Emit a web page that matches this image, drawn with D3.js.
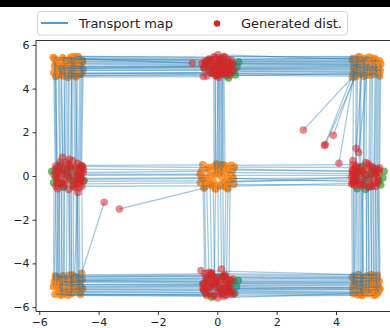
<!DOCTYPE html>
<html>
<head>
<meta charset="utf-8">
<script src="https://cdn.jsdelivr.net/npm/d3@7"></script>
<style>
  html, body { margin: 0; padding: 0; background: #fff; }
  svg { display: block; font-family: "DejaVu Sans", sans-serif; }
</style>
</head>
<body>
<svg id="chart" width="390" height="328"></svg>
<script>
// Source samples (orange). Entry i is carried by the transport map to generatedPts[i].
const sourcePts = [
  // corner (-5, 5)
  [-5.42,5.31],[-4.63,5.12],[-5.18,4.58],[-4.81,5.47],[-5.33,4.82],[-4.56,4.71],[-5.07,5.22],[-4.72,4.93],[-5.48,5.03],[-4.95,4.66],[-5.21,5.41],[-4.67,5.36],
  [-5.36,4.62],[-4.88,5.18],[-5.02,4.77],[-4.59,5.05],[-5.45,5.19],[-4.76,4.54],[-5.13,4.95],[-4.93,5.44],[-5.27,5.08],[-4.52,4.87],[-5.51,4.73],[-4.84,5.28],
  [-4.97,5.34],[-5.29,4.69],[-4.54,5.24],[-5.39,4.91],[-4.86,4.59],[-5.15,5.15],[-4.61,4.84],[-5.53,5.42],[-4.78,5.02],[-5.04,4.52],[-4.69,5.47],[-5.24,4.96],
  [-5.44,4.55],[-4.91,4.88],[-5.17,5.32],[-4.64,4.63],[-5.32,5.01],[-4.79,5.11],[-5.08,4.61],[-4.55,5.29],[-5.25,4.79],[-4.99,5.06],[-5.48,5.36],[-4.71,4.72],
  // corner (5, 5)
  [4.58,5.38],[5.21,4.62],[4.83,5.09],[5.46,5.27],[4.69,4.77],[5.12,5.44],[4.94,4.56],[5.37,4.91],[4.61,5.17],[5.28,5.02],[4.77,4.68],[5.05,5.31],
  [4.55,4.52],[4.62,4.58],[4.57,4.66],[4.66,4.54],[5.32,5.36],[4.87,4.84],[5.43,4.69],[5.08,5.15],[4.73,5.42],[5.19,4.78],[5.51,5.12],[4.98,4.97],
  [4.91,5.25],[5.33,4.67],[4.64,4.89],[5.17,5.09],[4.79,5.46],[5.42,4.98],[4.56,5.31],[5.06,4.74],[5.26,5.39],[4.72,5.04],[5.49,4.83],[4.99,5.18],
  [5.03,4.61],[4.68,5.23],[5.39,4.86],[4.84,4.68],[5.23,5.29],[4.59,4.93],[5.47,4.58],[4.95,5.37],[5.14,4.92],[4.81,5.05],[5.36,5.14],[4.62,4.77],
  // corner (-5, -5)
  [-5.38,-4.64],[-4.71,-5.29],[-5.12,-4.86],[-4.58,-5.07],[-5.47,-5.41],[-4.89,-4.53],[-5.24,-5.18],[-4.63,-4.79],[-5.03,-5.46],[-5.31,-4.97],[-4.79,-5.12],[-5.16,-4.71],
  [-4.57,-4.45],[-5.41,-5.02],[-4.96,-4.68],[-5.27,-5.33],[-4.68,-4.91],[-5.09,-5.24],[-4.82,-4.59],[-5.49,-4.82],[-4.54,-5.16],[-5.19,-4.57],[-4.91,-5.38],[-5.35,-4.74],
  [-5.06,-5.04],[-4.74,-4.62],[-5.33,-5.27],[-4.61,-5.42],[-5.19,-4.83],[-4.93,-5.19],[-5.46,-4.58],[-4.85,-4.97],[-5.28,-5.45],[-4.55,-4.74],[-5.11,-5.34],[-4.98,-4.79],
  [-5.42,-4.61],[-4.86,-5.12],[-5.15,-4.89],[-4.63,-5.31],[-5.31,-5.19],[-4.99,-4.54],[-5.52,-5.07],[-4.75,-4.76],[-5.22,-5.43],[-4.92,-4.98],[-5.37,-4.81],[-4.69,-5.22],
  // corner (5, -5)
  [4.61,-4.58],[5.24,-5.31],[4.86,-4.87],[5.43,-5.08],[4.73,-5.44],[5.08,-4.66],[4.57,-5.19],[5.31,-4.79],[4.95,-5.36],[5.17,-4.96],[4.68,-5.12],[5.39,-4.54],
  [4.64,-4.72],[5.27,-5.15],[4.82,-5.28],[5.46,-4.83],[4.59,-5.04],[5.12,-4.61],[4.91,-4.93],[5.35,-5.42],[4.76,-4.51],[5.02,-5.22],[5.21,-4.76],[4.88,-5.47],
  [5.01,-5.01],[4.66,-4.74],[5.29,-5.46],[4.89,-4.63],[5.45,-5.21],[4.79,-5.33],[5.14,-4.84],[4.58,-5.38],[5.37,-4.68],[4.97,-5.14],[5.19,-4.52],[4.72,-4.91],
  [5.29,-4.58],[4.71,-5.23],[5.11,-5.39],[4.93,-4.71],[5.48,-5.16],[4.62,-4.86],[5.04,-4.57],[5.36,-4.99],[4.85,-5.41],[5.19,-5.08],[4.55,-4.64],[5.42,-5.33],
  // centre (0, 0)
  [0.08,0.47],[-0.05,0.31],[0.17,0.52],[0.02,0.12],[0.21,0.38],[-0.11,0.44],
  [-0.36,-0.42],[0.29,-0.51],[-0.14,-0.27],[0.43,-0.35],[-0.48,-0.19],[0.11,-0.46],
  [-0.53,0.21],[-0.41,-0.08],[-0.29,0.39],[-0.57,-0.31],[-0.45,-0.55],[-0.22,0.04],
  [0.52,0.27],[0.38,-0.12],[0.47,0.49],[0.56,-0.38],[0.31,0.16],[0.44,-0.24],
  [-0.02,0.55],[0.12,0.21],[0.26,0.48],[-0.08,0.06],[0.05,0.36],[0.15,-0.02],
  [-0.24,-0.35],[0.36,-0.58],[0.02,-0.43],[-0.43,-0.52],[0.19,-0.31],[-0.06,-0.59],
  [-0.49,0.51],[-0.35,-0.22],[-0.58,0.08],[-0.18,-0.45],[-0.52,-0.12],[-0.31,0.27],
  [0.49,0.03],[0.57,0.41],[0.33,-0.47],[0.41,0.33],[0.54,-0.11],[0.27,-0.29]
];

// Generated samples (red), same order as sourcePts.
const generatedPts = [
  [0.12,5.27],[-0.31,5.08],[0.24,4.66],[-0.08,5.42],[0.41,4.85],[-0.22,4.74],[0.33,5.19],[-0.45,4.98],[0.05,5.01],[0.18,4.71],[-0.27,5.36],[0.47,5.30],
  [-5.31,0.42],[-4.93,-0.21],[-5.06,0.15],[-4.64,0.33],[-5.40,-0.12],[-4.71,0.58],[-5.18,-0.46],[-4.88,0.71],[-5.22,0.86],[-4.58,-0.08],[-5.46,0.27],[-4.80,-0.53],
  [-0.18,5.31],[0.29,4.72],[-0.41,5.22],[0.14,4.93],[-0.02,4.61],[0.49,5.13],[-0.29,4.86],[-0.84,5.16],[0.37,5.04],[-0.47,4.55],[0.25,5.44],[-0.11,4.99],
  [-5.39,-0.27],[-4.96,0.49],[-5.13,-0.38],[-4.68,0.07],[-5.28,0.21],[-4.75,-0.33],[-5.11,0.63],[-4.61,-0.17],[-5.20,0.34],[-5.02,-0.04],[-5.43,0.11],[-4.77,0.29],

  [0.36,5.33],[-0.14,4.68],[0.52,5.12],[-0.39,5.24],[0.09,4.81],[0.21,5.47],[0.43,4.62],[-0.06,4.89],[-0.52,5.15],[0.28,4.96],[-0.35,4.57],[0.02,5.55],
  [2.90,2.10],[3.91,1.86],[3.61,1.40],[3.64,1.44],[5.28,0.21],[4.68,1.27],[5.39,-0.32],[4.76,1.08],[4.69,0.47],[5.15,-0.14],[5.47,0.38],[4.93,-0.41],
  [-0.24,5.21],[0.39,4.69],[-0.43,4.91],[0.16,5.07],[-0.11,5.45],[0.31,4.94],[-0.33,5.28],[0.46,4.77],[0.08,5.34],[-0.19,5.01],[0.55,4.86],[-0.01,5.15],
  [5.01,0.62],[4.66,-0.26],[5.35,0.14],[4.83,0.37],[5.21,-0.47],[4.57,0.71],[5.44,0.27],[4.92,-0.12],[5.11,0.45],[4.78,-0.38],[5.30,0.02],[4.10,0.58],

  [0.18,-4.59],[-0.27,-5.33],[0.44,-4.82],[-0.12,-5.03],[0.31,-5.44],[-0.41,-4.48],[0.06,-5.21],[-0.33,-4.74],[0.22,-5.51],[-0.49,-4.93],[0.38,-5.08],[-0.05,-4.66],
  [-3.81,-1.20],[-5.36,-0.35],[-5.01,-0.62],[-5.23,0.09],[-4.72,-0.28],[-5.05,0.52],[-4.70,-0.75],[-5.44,-0.47],[-4.57,0.18],[-5.15,-0.19],[-4.95,0.38],[-5.30,0.64],
  [0.33,-5.01],[-0.18,-4.57],[0.45,-5.24],[-0.36,-5.47],[0.09,-4.88],[-0.48,-5.15],[0.26,-4.53],[-0.14,-4.96],[0.51,-5.41],[-0.29,-4.69],[0.16,-5.36],[-0.02,-4.81],
  [-5.45,0.45],[-4.84,-0.41],[-5.17,0.27],[-4.66,-0.55],[-5.33,-0.09],[-4.98,0.76],[-5.50,0.05],[-4.76,0.41],[-5.26,-0.31],[-4.90,0.02],[-5.38,-0.58],[-4.73,-0.02],

  [-0.19,-4.52],[0.47,-5.27],[-0.08,-4.91],[0.27,-5.13],[-0.36,-5.39],[0.52,-4.71],[-0.45,-5.16],[0.11,-4.84],[0.01,-5.58],[0.35,-4.99],[-0.23,-5.06],[-0.55,-4.33],
  [4.67,-0.21],[5.23,0.43],[4.79,0.12],[5.41,-0.07],[4.58,0.28],[5.09,0.56],[4.86,-0.29],[5.33,-0.48],[4.74,0.08],[5.04,0.31],[5.17,-0.39],[4.91,0.19],
  [-0.31,-5.04],[0.42,-4.77],[-0.13,-5.49],[0.19,-4.61],[-0.46,-5.23],[0.28,-5.31],[-0.04,-4.86],[0.53,-5.36],[-0.38,-4.64],[0.12,-5.17],[-0.21,-4.47],[0.33,-4.93],
  [5.27,-0.31],[4.69,0.39],[5.08,-0.52],[4.89,0.24],[5.45,0.17],[4.61,-0.14],[5.01,0.05],[5.34,0.33],[4.84,-0.45],[5.18,0.11],[4.53,-0.36],[5.40,-0.22],

  [0.05,4.52],[-0.08,4.71],[0.14,4.95],[0.01,5.18],[0.19,4.83],[-0.12,5.05],
  [-0.28,-4.41],[0.24,-4.62],[-0.09,-4.77],[0.39,-5.35],[-0.42,-5.02],[0.14,-4.26],
  [-4.52,0.16],[-4.61,-0.11],[-4.55,0.44],[-4.63,-0.36],[-3.30,-1.51],[-4.66,0.03],
  [4.54,0.25],[4.61,-0.09],[4.57,0.52],[4.63,-0.43],[4.56,0.11],[4.60,-0.18],
  [0.03,4.66],[0.11,4.89],[0.22,5.11],[-0.05,4.58],[0.08,5.36],[0.17,4.77],
  [-0.19,-4.43],[0.31,-4.69],[0.04,-5.27],[-0.38,-4.81],[0.21,-5.18],[-0.11,-5.45],
  [-4.59,0.49],[-4.53,-0.24],[-4.62,0.08],[-4.56,-0.47],[-4.65,-0.15],[-4.51,0.31],
  [4.58,0.03],[4.64,0.39],[4.55,-0.34],[4.62,0.19],[4.59,-0.26],[4.52,-0.06]
];

// Target samples (green).
const targetPts = [
  [0.12,5.08],[-0.21,4.86],[0.34,5.21],[0.05,4.63],[-0.38,5.15],[0.47,4.92],[0.18,5.39],[-0.09,5.02],[0.26,4.74],[-0.27,5.31],[0.41,5.12],[-0.14,4.69],[0.55,4.81],[0.09,5.27],[-0.44,4.95],[0.31,4.58],
  [0.66,4.98],[0.61,4.62],[0.72,5.21],[0.38,4.48],
  [-5.11,0.08],[-4.82,-0.24],[-5.34,0.19],[-4.95,0.41],[-5.22,-0.33],[-4.68,0.12],[-5.45,-0.06],[-4.87,-0.47],[-5.06,0.29],[-4.73,-0.15],[-5.29,0.52],[-4.98,-0.11],[-5.41,0.35],[-4.61,0.27],[-5.18,-0.52],[-4.91,0.16],
  [-5.58,0.21],[-5.52,-0.31],[-4.49,-0.21],[-4.55,0.43],
  [5.09,-0.12],[4.78,0.21],[5.33,0.09],[4.96,-0.38],[5.24,0.36],[4.69,-0.05],[5.46,-0.22],[4.88,0.44],[5.15,-0.49],[4.74,0.31],[5.38,0.27],[5.02,0.03],[5.51,-0.41],[4.63,-0.28],[5.19,0.17],[4.92,-0.18],
  [4.71,-0.58],[5.58,-0.09],[5.62,0.21],[4.99,-0.62],
  [0.09,-5.12],[-0.24,-4.87],[0.36,-5.26],[0.02,-4.64],[-0.33,-5.18],[0.48,-4.95],[0.17,-5.41],[-0.12,-4.99],[0.29,-4.73],[-0.41,-5.33],[0.43,-5.11],[-0.07,-4.71],[0.56,-4.84],[0.13,-5.29],[-0.46,-4.93],[0.24,-4.58],
  [0.65,-5.06],[0.59,-5.38],[0.71,-4.78],[-0.19,-5.55]
];

const xTicks = [-6, -4, -2, 0, 2, 4];
const yTicks = [-6, -4, -2, 0, 2, 4, 6];
const legendLabels = ["Transport map", "Generated dist."];

const svg = d3.select("#chart");
const W = 390, H = 328;

// Plot frame
const plotLeft = 36, plotRight = 398.6, plotTop = 40.5, plotBottom = 311.5;
const x = d3.scaleLinear().domain([-6.11, 6.11]).range([plotLeft, plotRight]);
const y = d3.scaleLinear().domain([-6.2, 6.2]).range([plotBottom, plotTop]);

svg.append("rect").attr("x", 0).attr("y", 0).attr("width", W).attr("height", 7).attr("fill", "#000");

svg.append("defs").append("clipPath").attr("id", "plotclip")
  .append("rect").attr("x", plotLeft).attr("y", plotTop)
  .attr("width", plotRight - plotLeft).attr("height", plotBottom - plotTop);

const plot = svg.append("g").attr("clip-path", "url(#plotclip)");

const C_BLUE = "#1f77b4", C_ORANGE = "#ff7f0e", C_GREEN = "#2ca02c", C_RED = "#d62728";
const R = 3.8;

plot.append("g").selectAll("circle").data(targetPts).join("circle")
  .attr("cx", d => x(d[0])).attr("cy", d => y(d[1])).attr("r", R)
  .attr("fill", C_GREEN).attr("fill-opacity", 0.7);

plot.append("g").selectAll("circle").data(sourcePts).join("circle")
  .attr("cx", d => x(d[0])).attr("cy", d => y(d[1])).attr("r", R)
  .attr("fill", C_ORANGE).attr("fill-opacity", 0.8);

// Transport map segments: source i -> generated i
plot.append("g").selectAll("line").data(d3.range(sourcePts.length)).join("line")
  .attr("x1", i => x(sourcePts[i][0])).attr("y1", i => y(sourcePts[i][1]))
  .attr("x2", i => x(generatedPts[i][0])).attr("y2", i => y(generatedPts[i][1]))
  .attr("stroke", C_BLUE).attr("stroke-width", 1.3).attr("stroke-opacity", 0.4);

plot.append("g").selectAll("circle").data(generatedPts).join("circle")
  .attr("cx", d => x(d[0])).attr("cy", d => y(d[1])).attr("r", R)
  .attr("fill", C_RED).attr("fill-opacity", 0.55);

// Axes
const fmt = d => d3.format("d")(d).replace("-", "\u2212");
const xAxis = d3.axisBottom(x).tickValues(xTicks).tickSize(3.5).tickPadding(3).tickFormat(fmt);
const yAxis = d3.axisLeft(y).tickValues(yTicks).tickSize(3.5).tickPadding(3).tickFormat(fmt);

const gx = svg.append("g").attr("transform", `translate(0,${plotBottom})`).call(xAxis);
const gy = svg.append("g").attr("transform", `translate(${plotLeft},0)`).call(yAxis);
[gx, gy].forEach(g => {
  g.select(".domain").remove();
  g.selectAll("line").attr("stroke", "#000").attr("stroke-width", 0.8);
  g.selectAll("text").attr("fill", "#222").style("font-size", "11px").style("font-family", "DejaVu Sans, sans-serif");
});

// Spines
svg.append("line").attr("x1", plotLeft).attr("x2", plotLeft).attr("y1", plotTop).attr("y2", plotBottom).attr("stroke", "#000").attr("stroke-width", 0.8);
svg.append("line").attr("x1", plotLeft).attr("x2", plotRight).attr("y1", plotBottom).attr("y2", plotBottom).attr("stroke", "#000").attr("stroke-width", 0.8);
svg.append("line").attr("x1", plotLeft).attr("x2", plotRight).attr("y1", plotTop).attr("y2", plotTop).attr("stroke", "#000").attr("stroke-width", 0.8);

// Legend
const lg = svg.append("g");
lg.append("rect").attr("x", 37.5).attr("y", 11.5).attr("width", 310).attr("height", 23.5).attr("rx", 3)
  .attr("fill", "#fff").attr("fill-opacity", 0.85).attr("stroke", "#ccc").attr("stroke-width", 0.8);
lg.append("line").attr("x1", 41).attr("x2", 68).attr("y1", 23).attr("y2", 23)
  .attr("stroke", C_BLUE).attr("stroke-width", 1.5);
lg.append("text").attr("x", 79).attr("y", 27.5).text(legendLabels[0])
  .style("font-size", "13px").attr("fill", "#222");
lg.append("circle").attr("cx", 217).attr("cy", 23.5).attr("r", 3.2).attr("fill", C_RED);
lg.append("text").attr("x", 241).attr("y", 27.5).text(legendLabels[1])
  .style("font-size", "13px").attr("fill", "#222");
</script>
</body>
</html>
